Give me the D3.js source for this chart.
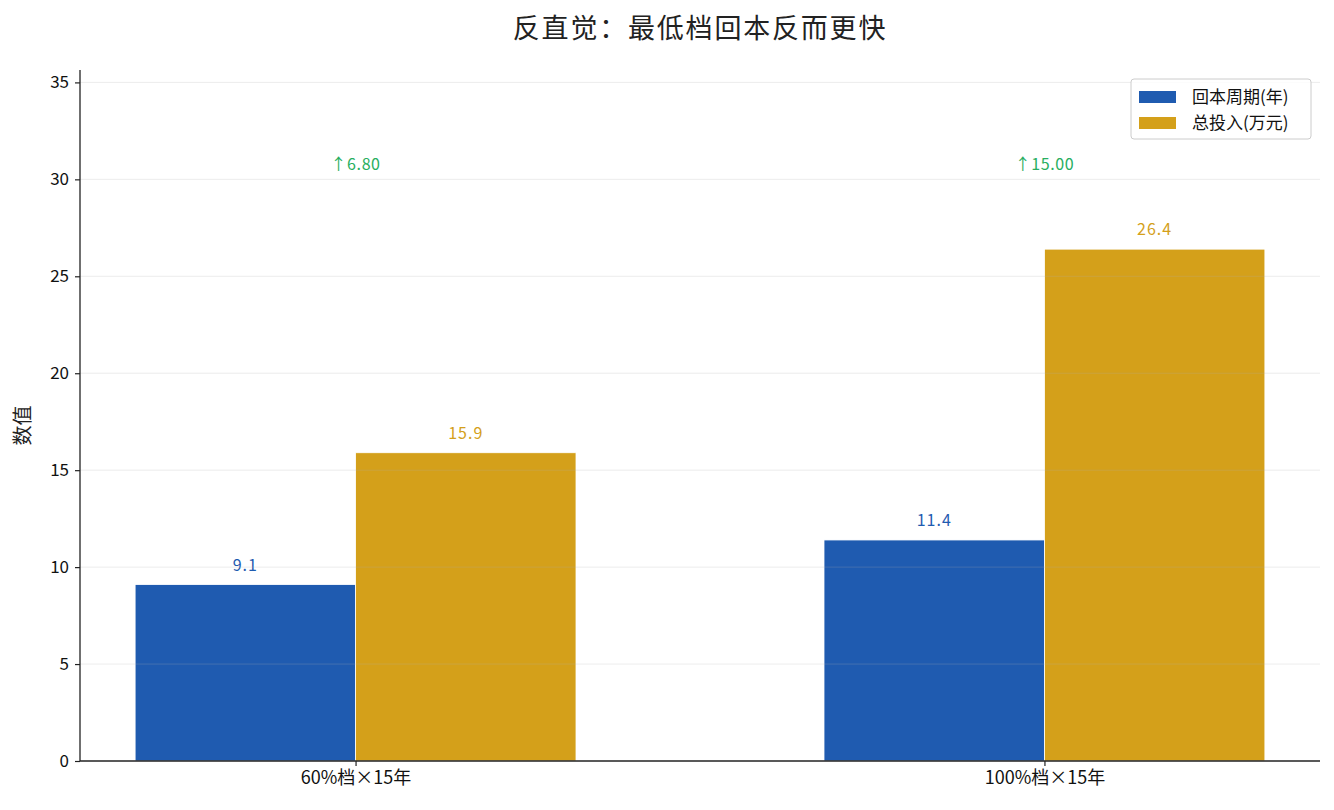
<!DOCTYPE html>
<html>
<head>
<meta charset="utf-8">
<script src="https://cdn.jsdelivr.net/npm/d3@7"></script>
<style>
  body { margin: 0; background: #fff; }
  text { font-family: "Noto Sans CJK SC", sans-serif; }
</style>
</head>
<body>
<svg id="chart" width="1334" height="810"></svg>
<script>
// chart data
const categories = ['60%档×15年', '100%档×15年'];
const seriesNames = ['回本周期(年)', '总投入(万元)'];
const seriesColors = ['#1f5bb0', '#d4a01a'];
const paybackYears = [9.1, 11.4];
const totalInvest = [15.9, 26.4];
const diffLabels = ['↑6.80', '↑15.00'];
const yTicks = [0, 5, 10, 15, 20, 25, 30, 35];

const W = 1334, H = 810;
const margin = { left: 80, right: 14, top: 70, bottom: 49 };
const plotW = W - margin.left - margin.right;
const plotH = H - margin.top - margin.bottom;

const svg = d3.select('#chart');
const g = svg.append('g').attr('transform', `translate(${margin.left},${margin.top})`);

const yMax = d3.max(totalInvest) * 1.35;
const y = d3.scaleLinear().domain([0, yMax]).range([plotH, 0]);
// category positions 0..n-1, padding of 0.4 on each side
const x = d3.scaleLinear().domain([-0.4, categories.length - 1 + 0.4]).range([0, plotW]);
const barW = 0.32;

const series = [paybackYears, totalInvest];

// bars
series.forEach((vals, si) => {
  const offset = si === 0 ? -barW : 0;
  g.append('g').selectAll('rect')
    .data(vals)
    .join('rect')
    .attr('x', (d, i) => x(i + offset))
    .attr('width', x(barW) - x(0))
    .attr('y', d => y(d))
    .attr('height', d => y(0) - y(d))
    .attr('fill', seriesColors[si])
    .attr('stroke', '#fff')
    .attr('stroke-width', 0.8);

  g.append('g').selectAll('text')
    .data(vals)
    .join('text')
    .attr('x', (d, i) => x(i + offset + barW / 2))
    .attr('y', d => y(d) - 14)
    .attr('text-anchor', 'middle')
    .attr('font-size', 16)
    .attr('letter-spacing', 1)
    .attr('fill', seriesColors[si])
    .text(d => d.toFixed(1));
});

// grid lines drawn over bars, faint
g.append('g').selectAll('line')
  .data(yTicks.filter(t => t > 0))
  .join('line')
  .attr('x1', 0).attr('x2', plotW)
  .attr('y1', d => y(d)).attr('y2', d => y(d))
  .attr('stroke', '#b0b0b0')
  .attr('stroke-opacity', 0.3)
  .attr('stroke-width', 0.8);

// difference annotations
g.append('g').selectAll('text')
  .data(diffLabels)
  .join('text')
  .attr('x', (d, i) => x(i))
  .attr('y', y(30.5))
  .attr('text-anchor', 'middle')
  .attr('font-size', 16)
  .attr('letter-spacing', 0.6)
  .attr('fill', '#27ae60')
  .text(d => d);

// axes
const yAxis = g.append('g')
  .call(d3.axisLeft(y).tickValues(yTicks).tickSize(5).tickPadding(6));
const xAxis = g.append('g')
  .attr('transform', `translate(0,${plotH})`)
  .call(d3.axisBottom(x).tickValues(categories.map((c, i) => i)).tickFormat(i => categories[i]).tickSize(5).tickPadding(5));

[yAxis, xAxis].forEach(a => {
  a.select('.domain').attr('stroke', '#222').attr('stroke-width', 1.3);
  a.selectAll('.tick line').attr('stroke', '#222').attr('stroke-width', 1.2);
  a.selectAll('.tick text').attr('font-size', 17).attr('fill', '#111')
    .style('font-family', '"Noto Sans CJK SC", sans-serif');
});
xAxis.selectAll('.tick text').attr('font-size', 18);
yAxis.select('.domain').attr('d', `M0,0V${plotH}`);
xAxis.select('.domain').attr('d', `M0,0H${plotW}`);

// y label
svg.append('text')
  .attr('transform', `translate(30,${margin.top + plotH / 2 + 10}) rotate(-90)`)
  .attr('text-anchor', 'middle')
  .attr('font-size', 20)
  .attr('fill', '#222')
  .text('数值');

// title
svg.append('text')
  .attr('x', margin.left + plotW / 2)
  .attr('y', 38)
  .attr('text-anchor', 'middle')
  .attr('font-size', 27)
  .attr('letter-spacing', 1.8)
  .attr('fill', '#222')
  .text('反直觉：最低档回本反而更快');

// legend
const lg = svg.append('g').attr('transform', 'translate(1131,79)');
lg.append('rect')
  .attr('width', 180).attr('height', 60).attr('rx', 3)
  .attr('fill', '#fff').attr('fill-opacity', 0.8)
  .attr('stroke', '#ccc').attr('stroke-width', 1);
seriesNames.forEach((name, i) => {
  const row = lg.append('g').attr('transform', `translate(8,${12 + i * 26})`);
  row.append('rect').attr('width', 37).attr('height', 12).attr('fill', seriesColors[i]);
  row.append('text')
    .attr('x', 53).attr('y', 12)
    .attr('font-size', 17)
    .attr('fill', '#111')
    .text(name);
});
</script>
</body>
</html>
